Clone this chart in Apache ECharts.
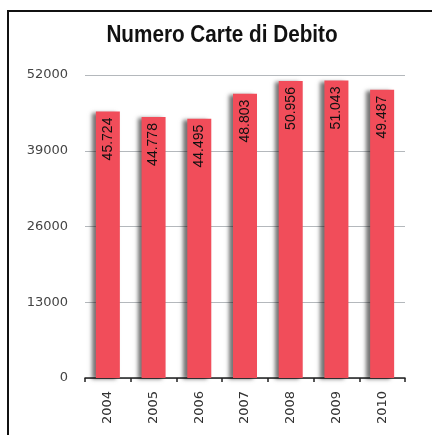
<!DOCTYPE html>
<html>
<head>
<meta charset="utf-8">
<script src="https://cdn.jsdelivr.net/npm/echarts@6/dist/echarts.min.js"></script>
<style>
  html, body { margin: 0; padding: 0; background: #fff; }
  #chart { width: 432px; height: 435px; }
</style>
</head>
<body>
<div id="chart"></div>
<script>
// Debit cards issued per year
const years = ['2004', '2005', '2006', '2007', '2008', '2009', '2010'];
const cards = [45724, 44778, 44495, 48803, 50956, 51043, 49487];
const yTicks = [0, 13000, 26000, 39000, 52000];
const chartTitle = 'Numero Carte di Debito';

// Italian thousands separator: 45724 -> "45.724"
function itFormat(v) {
  return String(v).replace(/\B(?=(\d{3})+(?!\d))/g, '.');
}

const chart = echarts.init(document.getElementById('chart'), null, { renderer: 'canvas' });

chart.setOption({
  backgroundColor: '#ffffff',
  animation: false,
  graphic: [
    {
      // frame: left and top edges
      type: 'polyline',
      shape: { points: [[8, 435], [8, 11], [432, 11]] },
      style: { stroke: '#111', lineWidth: 2, fill: null }
    },
    {
      // condensed bold heading
      type: 'text',
      x: 222,
      y: 36,
      scaleX: 0.9,
      style: {
        text: chartTitle,
        textAlign: 'center',
        textVerticalAlign: 'middle',
        fontFamily: '"Liberation Sans", Arial, sans-serif',
        fontWeight: 'bold',
        fontSize: 23,
        fill: '#111'
      }
    }
  ],
  grid: { left: 85, right: 27, top: 75, bottom: 57 },
  xAxis: {
    type: 'category',
    data: years,
    boundaryGap: true,
    axisLine: { lineStyle: { color: '#222', width: 1.5 } },
    axisTick: { show: true, length: 4, lineStyle: { color: '#222', width: 1.5 } },
    axisLabel: {
      rotate: 90,
      margin: 13,
      fontFamily: '"DejaVu Sans", sans-serif',
      fontSize: 13,
      color: '#333'
    }
  },
  yAxis: {
    type: 'value',
    min: yTicks[0],
    max: yTicks[yTicks.length - 1],
    interval: yTicks[1] - yTicks[0],
    axisLine: { show: false },
    axisTick: { show: false },
    axisLabel: {
      margin: 17,
      formatter: v => String(v),
      fontFamily: '"DejaVu Sans", sans-serif',
      fontSize: 13,
      color: '#444'
    },
    splitLine: { lineStyle: { color: '#b4b8bc', width: 1.2 } }
  },
  series: [
    {
      type: 'bar',
      data: cards,
      barWidth: 24,
      itemStyle: {
        color: '#f14d5a',
        shadowColor: 'rgba(0,0,0,0.55)',
        shadowBlur: 4,
        shadowOffsetX: -4,
        shadowOffsetY: 1
      },
      label: {
        show: true,
        position: 'insideTop',
        rotate: 90,
        align: 'right',
        verticalAlign: 'middle',
        distance: 6,
        formatter: p => itFormat(p.value),
        fontFamily: '"Liberation Sans", Arial, sans-serif',
        fontSize: 14,
        color: '#111'
      }
    }
  ]
});
</script>
</body>
</html>
